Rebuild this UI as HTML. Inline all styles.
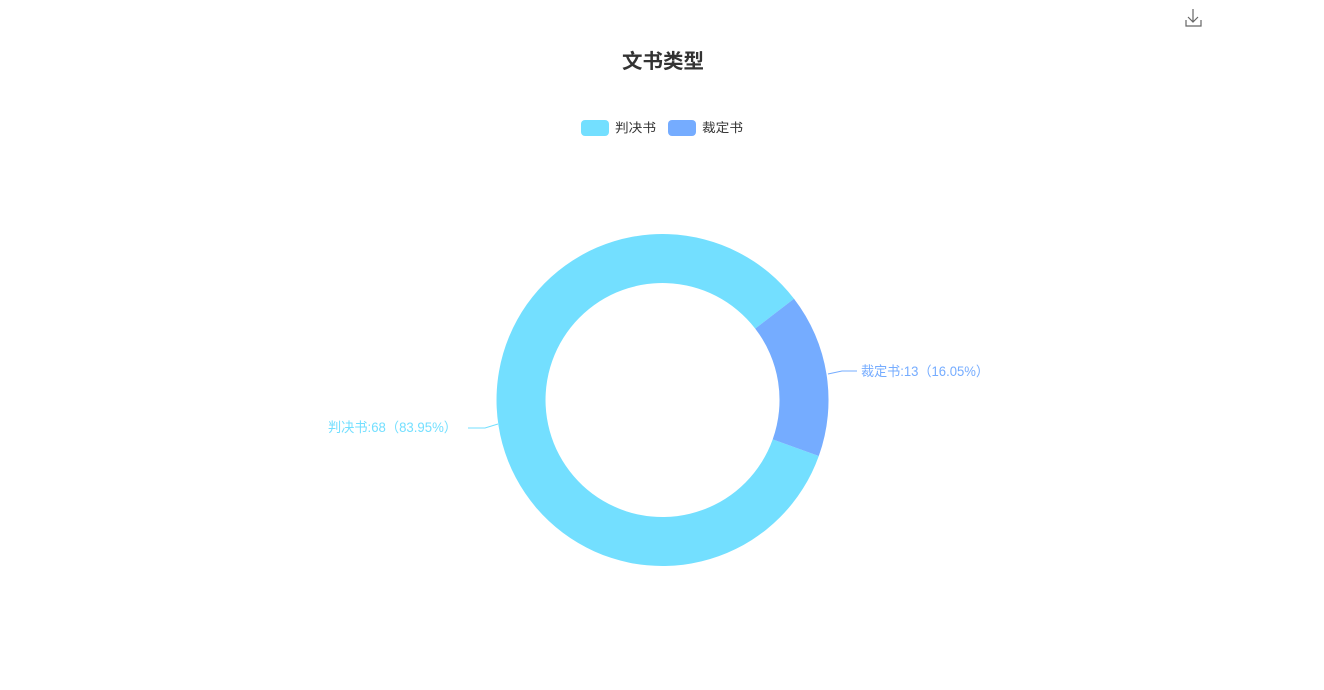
<!DOCTYPE html>
<html><head><meta charset="utf-8"><style>
html,body{margin:0;padding:0;background:#fff;width:1324px;height:690px;overflow:hidden}
svg{display:block}
text{font-family:"Liberation Sans","Noto Sans CJK SC",sans-serif}
</style></head><body>
<svg width="1324" height="690" viewBox="0 0 1324 690">
<text x="622" y="68" font-size="20" font-weight="bold" fill="#333" textLength="82" lengthAdjust="spacingAndGlyphs">文书类型</text>
<rect x="581" y="120" width="28" height="16" rx="4" fill="#73dfff"/>
<text x="615" y="132" font-size="12.5" fill="#333" textLength="41" lengthAdjust="spacingAndGlyphs">判决书</text>
<rect x="668" y="120" width="28" height="16" rx="4" fill="#75acff"/>
<text x="702" y="132" font-size="12.5" fill="#333" textLength="41" lengthAdjust="spacingAndGlyphs">裁定书</text>
<path d="M818.8,456 A166,166 0 1 1 794,298.7 L755.2,328.6 A117,117 0 1 0 772.7,439.4 Z" fill="#73dfff"/>
<path d="M794,298.7 A166,166 0 0 1 818.8,456 L772.7,439.4 A117,117 0 0 0 755.2,328.6 Z" fill="#75acff"/>
<polyline points="828,374 842,371 857,371" fill="none" stroke="#75acff" stroke-width="1"/>
<text x="861" y="376" font-size="13.5" fill="#75acff" textLength="128" lengthAdjust="spacingAndGlyphs">裁定书:13（16.05%）</text>
<polyline points="498,424 485,428 468,428" fill="none" stroke="#73dfff" stroke-width="1"/>
<text x="328" y="432" font-size="13.5" fill="#73dfff" textLength="129" lengthAdjust="spacingAndGlyphs">判决书:68（83.95%）</text>
<g stroke="#666" stroke-width="1.2" fill="none">
<path d="M1193,9 V22 M1188,17 L1193,22 L1198,17"/>
<path d="M1186,20 V26 H1201 V20"/>
</g>
</svg>
</body></html>
